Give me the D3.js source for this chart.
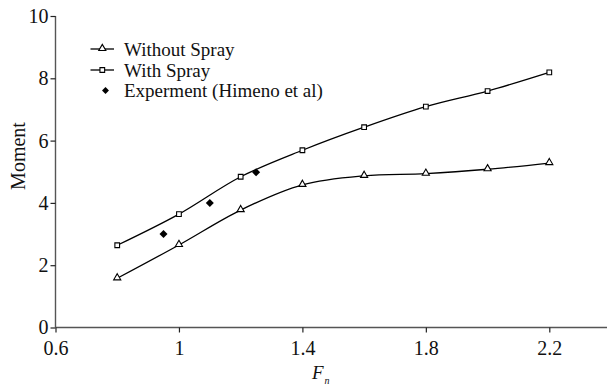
<!DOCTYPE html>
<html><head><meta charset="utf-8">
<script src="https://cdn.jsdelivr.net/npm/d3@7"></script>
<style>
body{margin:0;background:#fff;}
text{font-family:"Liberation Serif","Times New Roman",serif;fill:#111;}
</style></head>
<body><svg id="c" width="607" height="386"></svg>
<script>
const fnValues = [0.8, 1.0, 1.2, 1.4, 1.6, 1.8, 2.0, 2.2];
const withoutSpray = [1.58, 2.65, 3.77, 4.58, 4.87, 4.94, 5.08, 5.28];
const withSpray = [2.64, 3.64, 4.84, 5.69, 6.43, 7.09, 7.59, 8.19];
const expFn = [0.95, 1.1, 1.25];
const expMoment = [3.0, 4.0, 4.98];
const xTicks = [0.6, 1, 1.4, 1.8, 2.2];
const yTicks = [0, 2, 4, 6, 8, 10];
const legendLabels = ["Without Spray", "With Spray", "Experment (Himeno et al)"];

const svg = d3.select("#c");
const x = d3.scaleLinear().domain([0.6, 2.2]).range([55.5, 549.3]);
const y = d3.scaleLinear().domain([0, 10]).range([327.5, 16]);
const axisColor = "#555";

// axes
svg.append("line").attr("x1", 55.5).attr("x2", 607).attr("y1", y(0)).attr("y2", y(0))
  .attr("stroke", axisColor).attr("stroke-width", 1.6);
svg.append("line").attr("x1", 55.5).attr("x2", 55.5).attr("y1", y(0)).attr("y2", y(10))
  .attr("stroke", axisColor).attr("stroke-width", 1.4);

const xAxis = svg.append("g").attr("transform", `translate(0,${y(0)})`)
  .call(d3.axisBottom(x).tickValues(xTicks).tickFormat(d3.format("")).tickSize(5).tickSizeOuter(0));
xAxis.select(".domain").remove();
xAxis.selectAll(".tick line").attr("stroke", "#222").attr("stroke-width", 1.2);
xAxis.selectAll(".tick text").attr("font-size", 20).attr("font-family", "Liberation Serif").attr("fill", "#111").attr("dy", "0.95em");

const yAxis = svg.append("g").attr("transform", "translate(55.5,0)")
  .call(d3.axisLeft(y).tickValues(yTicks).tickSize(5).tickPadding(2).tickSizeOuter(0));
yAxis.select(".domain").remove();
yAxis.selectAll(".tick line").attr("stroke", "#222").attr("stroke-width", 1.2);
yAxis.selectAll(".tick text").attr("font-size", 20).attr("font-family", "Liberation Serif").attr("fill", "#111");

// axis titles
svg.append("text").attr("transform", "translate(25,156) rotate(-90)").attr("text-anchor", "middle")
  .attr("font-size", 20).text("Moment");
const xt = svg.append("text").attr("x", 312).attr("y", 379).attr("font-size", 19).attr("font-style", "italic");
xt.append("tspan").text("F");
xt.append("tspan").attr("font-size", 10).attr("dy", 5).attr("dx", 1).text("n");

// curves
const line = d3.line().x(d => x(d[0])).y(d => y(d[1])).curve(d3.curveCatmullRom.alpha(0.5));
const s1 = fnValues.map((f, i) => [f, withoutSpray[i]]);
const s2 = fnValues.map((f, i) => [f, withSpray[i]]);
[s1, s2].forEach(s => svg.append("path").attr("d", line(s)).attr("fill", "none")
  .attr("stroke", "#000").attr("stroke-width", 1.3));

const tri = d3.symbol().type(d3.symbolTriangle).size(22);
const sq = d3.symbol().type(d3.symbolSquare).size(22);
const dia = d3.symbol().type(d3.symbolSquare).size(32);

svg.selectAll(".tri").data(s1).join("path").attr("d", tri)
  .attr("transform", d => `translate(${x(d[0])},${y(d[1])-0.5})`)
  .attr("fill", "#fff").attr("stroke", "#000").attr("stroke-width", 1.1);
svg.selectAll(".sq").data(s2).join("path").attr("d", sq)
  .attr("transform", d => `translate(${x(d[0])},${y(d[1])})`)
  .attr("fill", "#fff").attr("stroke", "#000").attr("stroke-width", 1.1);
svg.selectAll(".dia").data(expFn.map((f, i) => [f, expMoment[i]])).join("path").attr("d", dia)
  .attr("transform", d => `translate(${x(d[0])},${y(d[1])}) rotate(45)`)
  .attr("fill", "#000");

// legend
const lg = svg.append("g");
const rows = [49, 70, 90.5];
rows.forEach((ry, i) => {
  if (i < 2) {
    lg.append("line").attr("x1", 90.5).attr("x2", 114).attr("y1", ry).attr("y2", ry)
      .attr("stroke", "#000").attr("stroke-width", 1.3);
    lg.append("path").attr("d", i === 0 ? tri : sq).attr("transform", `translate(102.3,${ry - (i===0?0.5:0)})`)
      .attr("fill", "#fff").attr("stroke", "#000").attr("stroke-width", 1.1);
  } else {
    lg.append("path").attr("d", d3.symbol().type(d3.symbolSquare).size(24)).attr("transform", `translate(105.5,${ry}) rotate(45)`)
      .attr("fill", "#000");
  }
  lg.append("text").attr("x", 124).attr("y", ry + 6.5).attr("font-size", 19).text(legendLabels[i]);
});
</script></body></html>
